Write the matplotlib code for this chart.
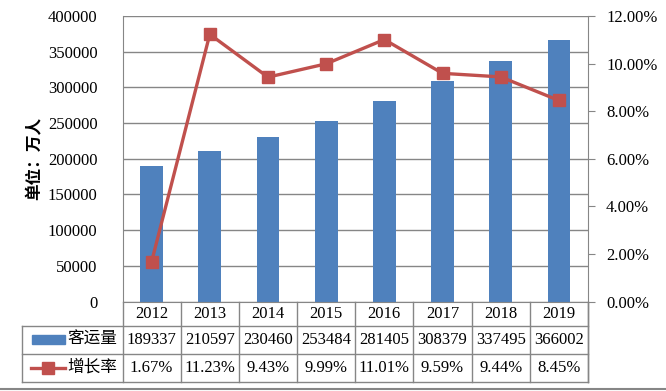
import matplotlib.pyplot as plt
from matplotlib.lines import Line2D
from matplotlib.patches import Rectangle
from matplotlib.transforms import blended_transform_factory
import numpy as np

plt.rcParams['font.family'] = ['Liberation Serif', 'Noto Sans CJK SC']

years = ['2012', '2013', '2014', '2015', '2016', '2017', '2018', '2019']
passengers = [189337, 210597, 230460, 253484, 281405, 308379, 337495, 366002]
growth = [1.67, 11.23, 9.43, 9.99, 11.01, 9.59, 9.44, 8.45]
bar_label = '客运量'
line_label = '增长率'

W, H = 666, 391
blue = '#4F81BD'
red = '#C0504D'
grid = '#868686'


def fx(x):
    return x / W


def fy(y):
    return 1 - y / H


fig = plt.figure(figsize=(W / 100, H / 100), dpi=100)
left, right, top, bottom = 122.5, 588, 16, 301.5
ax = fig.add_axes([fx(left), fy(bottom), fx(right - left), (bottom - top) / H])
x = np.arange(len(years))

ax.bar(x, passengers, width=0.39, color=blue, zorder=2)
ax.set_xlim(-0.5, len(years) - 0.5)
ax.set_ylim(0, 400000)
ax.set_yticks(np.arange(0, 400001, 50000))
ax.tick_params(axis='y', length=0, labelsize=12, pad=18)
ax.set_xticks([])
ax.grid(axis='y', color=grid, linewidth=1, zorder=0)
ax.set_axisbelow(True)
for s in ['top', 'right']:
    ax.spines[s].set_visible(False)
for s in ['left', 'bottom']:
    ax.spines[s].set_color(grid)
ax.set_ylabel('单位：万人', fontsize=12, fontweight='bold', labelpad=3)

ax2 = ax.twinx()
ax2.plot(x, growth, color=red, linewidth=2.4, marker='s', markersize=8.5,
         zorder=3)
ax2.set_ylim(0, 12)
ax2.set_yticks(np.arange(0, 12.1, 2))
ax2.set_yticklabels(['%.2f%%' % v for v in np.arange(0, 12.1, 2)])
ax2.tick_params(axis='y', length=5, color=grid, labelsize=12, pad=8)
for s in ['top', 'left', 'bottom']:
    ax2.spines[s].set_visible(False)
ax2.spines['right'].set_color(grid)

# data table below the plot
rows = [301.5, 326, 354, 381.7]
tleft = 22
trans = blended_transform_factory(ax.transData, fig.transFigure)
for y in rows[1:]:
    fig.add_artist(Line2D([fx(tleft), fx(right)], [fy(y), fy(y)], color=grid, lw=1))
for xe in np.arange(-0.5, len(years)):
    fig.add_artist(Line2D([xe, xe], [fy(rows[0]), fy(rows[3])], color=grid, lw=1,
                          transform=trans))
fig.add_artist(Line2D([fx(right), fx(right)], [fy(rows[0]), fy(rows[3])],
                      color=grid, lw=1))
fig.add_artist(Line2D([fx(tleft), fx(tleft)], [fy(rows[1]), fy(rows[3])],
                      color=grid, lw=1))
fig.add_artist(Line2D([0, 1], [fy(389), fy(389)], color=grid, lw=1.5))

mid = [(rows[i] + rows[i + 1]) / 2 for i in range(3)]
for i in range(len(years)):
    fig.text(x[i], fy(mid[0]), years[i], transform=trans, ha='center',
             va='center', fontsize=12)
    fig.text(x[i], fy(mid[1]), str(passengers[i]), transform=trans,
             ha='center', va='center', fontsize=12)
    fig.text(x[i], fy(mid[2]), '%.2f%%' % growth[i], transform=trans,
             ha='center', va='center', fontsize=12)

# legend keys in the table's first column
fig.add_artist(Rectangle((fx(32), fy(344)), fx(33), 9 / H, color=blue))
fig.text(fx(67), fy(mid[1]), bar_label, ha='left', va='center', fontsize=12)
fig.add_artist(Line2D([fx(31), fx(65)], [fy(mid[2]), fy(mid[2])], color=red,
                      lw=2.4))
fig.add_artist(Line2D([fx(48)], [fy(mid[2])], color=red, marker='s',
                      markersize=8.5, linestyle='none'))
fig.text(fx(67), fy(mid[2]), line_label, ha='left', va='center', fontsize=12)

fig.savefig('out.png', dpi=100)
